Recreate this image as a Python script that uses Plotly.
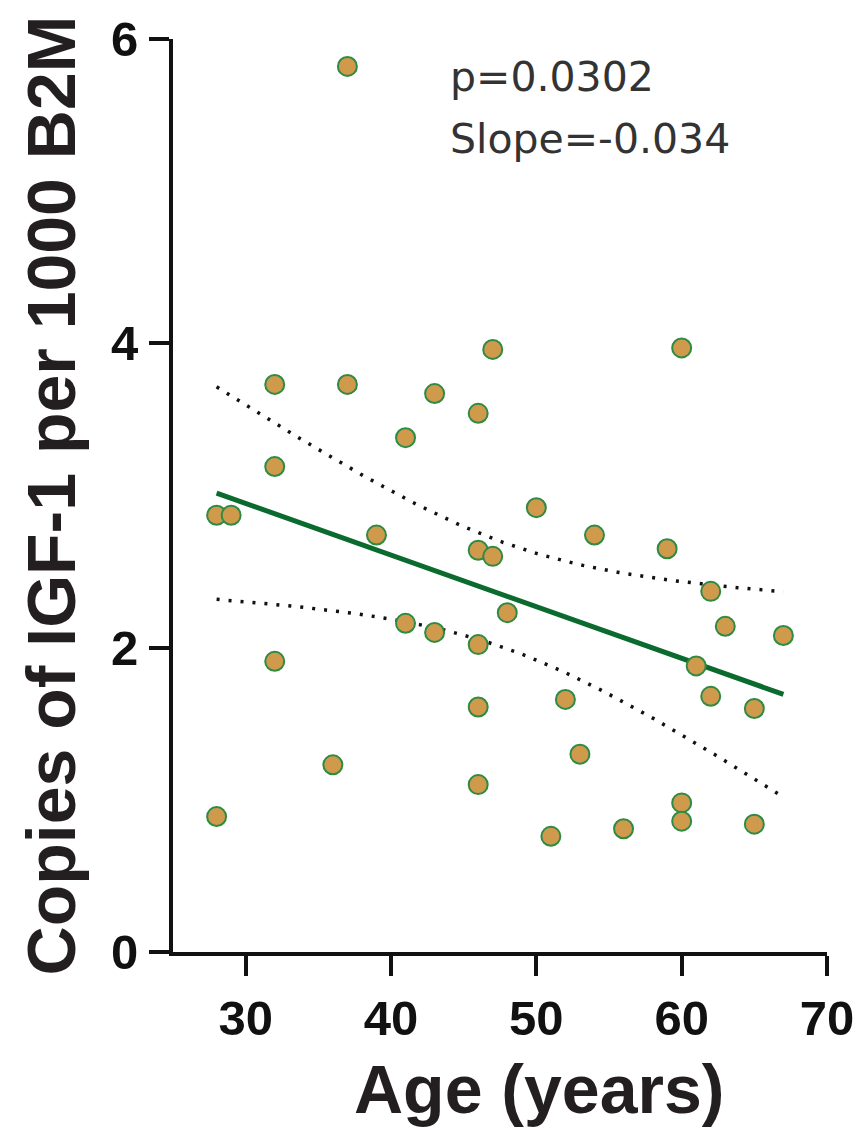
import numpy as np
import plotly.graph_objects as go

# Data
age = [28, 28, 29, 32, 32, 32, 36, 37, 37, 39, 41, 41, 43, 43,
       46, 46, 46, 46, 46, 47, 47, 48, 50, 51, 52, 53, 54, 56,
       59, 60, 60, 60, 61, 62, 62, 63, 65, 65, 67]
copies = [2.87, 0.89, 2.87, 3.73, 3.19, 1.91, 1.23, 5.82, 3.73, 2.74, 3.38, 2.16, 3.67, 2.10,
          3.54, 2.64, 2.02, 1.61, 1.10, 3.96, 2.60, 2.23, 2.92, 0.76, 1.66, 1.30, 2.74, 0.81,
          2.65, 3.97, 0.98, 0.86, 1.88, 2.37, 1.68, 2.14, 1.60, 0.84, 2.08]
x_ticks = [30, 40, 50, 60, 70]
y_ticks = [0, 2, 4, 6]
stats_text = ["p=0.0302", "Slope=-0.034"]
x_title = "Age (years)"
y_title = "Copies of IGF-1 per 1000 B2M"

x = np.array(age, dtype=float)
y = np.array(copies, dtype=float)
n = len(x)
slope, intercept = np.polyfit(x, y, 1)
xs = np.linspace(x.min(), x.max(), 100)
fit = intercept + slope * xs
resid = y - (intercept + slope * x)
s = np.sqrt(np.sum(resid ** 2) / (n - 2))
sxx = np.sum((x - x.mean()) ** 2)
t_crit = 2.026  # t(0.975, df=37)
half = t_crit * s * np.sqrt(1.0 / n + (xs - x.mean()) ** 2 / sxx)

fig = go.Figure()
for band in (fit + half, fit - half):
    fig.add_trace(go.Scatter(x=xs, y=band, mode="lines",
                             line=dict(color="#111111", width=3.5, dash="3px,9px"),
                             hoverinfo="skip", showlegend=False))
fig.add_trace(go.Scatter(x=xs, y=fit, mode="lines",
                         line=dict(color="#0B6A2E", width=5),
                         hoverinfo="skip", showlegend=False))
fig.add_trace(go.Scatter(x=age, y=copies, mode="markers",
                         marker=dict(size=19, color="#CF9A4C",
                                     line=dict(color="#2F8A43", width=2)),
                         showlegend=False))

for i, txt in enumerate(stats_text):
    fig.add_annotation(text=txt, xref="paper", yref="paper",
                       x=0.42, y=[0.9586, 0.891][i], xanchor="left", yanchor="middle",
                       showarrow=False,
                       font=dict(family="DejaVu Sans, sans-serif", size=41, color="#333333"))

# x-axis title (placed slightly right of centre, as in the reference)
fig.add_annotation(text=x_title, xref="paper", yref="paper",
                   x=0.56, y=-0.106, xanchor="center", yanchor="top",
                   showarrow=False,
                   font=dict(family="Liberation Sans, Arial, sans-serif", size=68,
                             color="#231F20", weight="bold"))

axis_common = dict(showline=True, linewidth=4, linecolor="#111111", showgrid=False,
                   zeroline=False, ticks="outside", ticklen=20, tickwidth=4,
                   tickcolor="#111111",
                   tickfont=dict(family="Liberation Sans, Arial, sans-serif", size=49,
                                 color="#111111", weight="bold"))

fig.update_layout(
    width=866, height=1134,
    margin=dict(l=173, r=35, t=34, b=182),
    paper_bgcolor="white", plot_bgcolor="white",
    xaxis=dict(range=[25, 70], tickvals=x_ticks, ticktext=[str(v) for v in x_ticks],
               ticklabelstandoff=0, **axis_common),
    yaxis=dict(range=[0, 6], tickvals=y_ticks, ticktext=[str(v) for v in y_ticks],
               title=dict(text=y_title, standoff=14,
                          font=dict(family="Liberation Sans, Arial, sans-serif", size=68,
                                    color="#231F20", weight="bold")),
               ticklabelstandoff=1, **axis_common),
)

fig.write_html("out.html")
